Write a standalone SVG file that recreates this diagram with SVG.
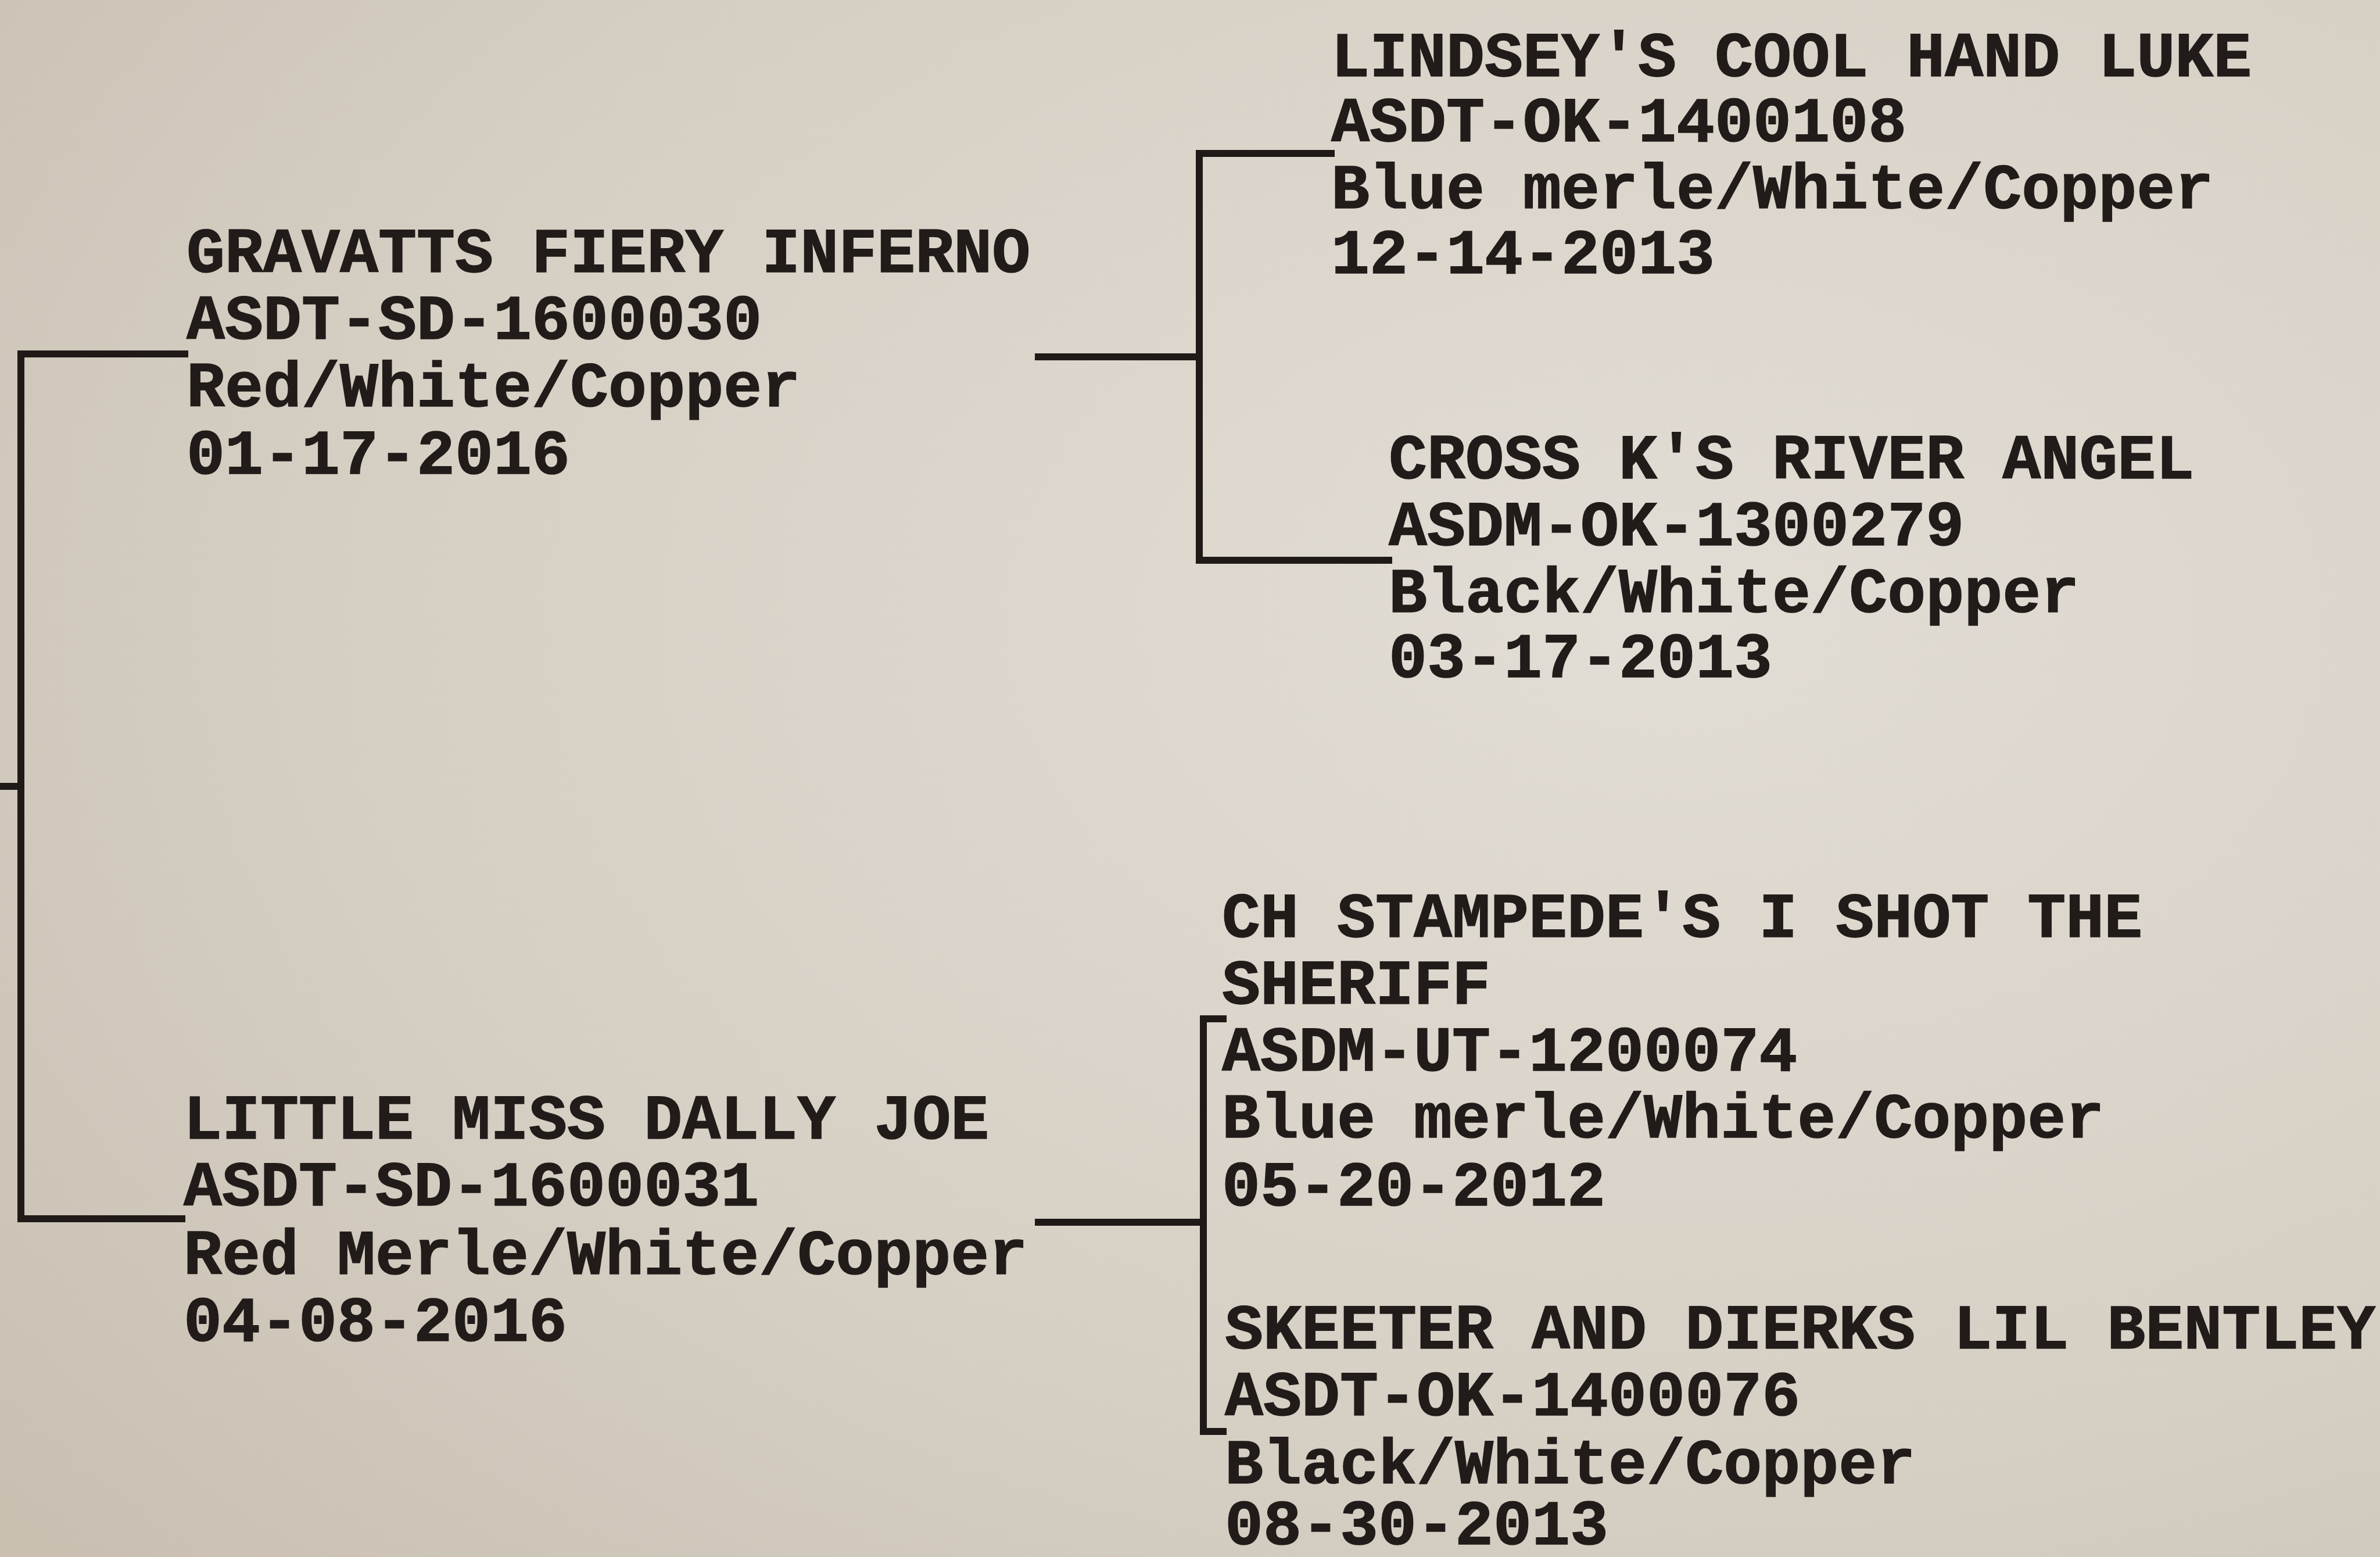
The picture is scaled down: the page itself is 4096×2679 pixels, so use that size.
<svg xmlns="http://www.w3.org/2000/svg" width="4096" height="2679" viewBox="0 0 4096 2679">
<defs>
<style>
.t{font-family:"Liberation Mono","DejaVu Sans Mono",monospace;font-weight:bold;font-size:110px;fill:#211c1a;stroke:#211c1a;stroke-width:1.5}
.c{stroke:#1f1a18;stroke-width:12;fill:none;stroke-linecap:square}
</style>
<radialGradient id="bg" cx="0.7" cy="0.4" r="0.9">
<stop offset="0" stop-color="#e2ddd5"/>
<stop offset="0.6" stop-color="#d6cfc4"/>
<stop offset="1" stop-color="#c9c0b2"/>
</radialGradient>
</defs>
<rect width="4096" height="2679" fill="url(#bg)"/>
<g id="connectors">
<path class="c" d="M0 1353 H36 M318 609 H36 V2097 H313"/>
<path class="c" d="M1787 614 H2064 M2291 264 H2064 V964 H2390"/>
<path class="c" d="M1787 2103 H2071 M2105 1753 H2071 V2463 H2105"/>
</g>
<g id="n-gravatts">
<text class="t" x="321" y="468">GRAVATTS FIERY INFERNO</text>
<text class="t" x="321" y="583">ASDT-SD-1600030</text>
<text class="t" x="321" y="699">Red/White/Copper</text>
<text class="t" x="321" y="815">01-17-2016</text>
</g>
<g id="n-lindsey">
<text class="t" x="2291" y="131">LINDSEY'S COOL HAND LUKE</text>
<text class="t" x="2291" y="243">ASDT-OK-1400108</text>
<text class="t" x="2291" y="358">Blue merle/White/Copper</text>
<text class="t" x="2291" y="470">12-14-2013</text>
</g>
<g id="n-crossk">
<text class="t" x="2390" y="823">CROSS K'S RIVER ANGEL</text>
<text class="t" x="2390" y="938">ASDM-OK-1300279</text>
<text class="t" x="2390" y="1053">Black/White/Copper</text>
<text class="t" x="2390" y="1165">03-17-2013</text>
</g>
<g id="n-littlemiss">
<text class="t" x="316" y="1959">LITTLE MISS DALLY JOE</text>
<text class="t" x="316" y="2074">ASDT-SD-1600031</text>
<text class="t" x="316" y="2192">Red Merle/White/Copper</text>
<text class="t" x="316" y="2307">04-08-2016</text>
</g>
<g id="n-stampede">
<text class="t" x="2103" y="1612">CH STAMPEDE'S I SHOT THE</text>
<text class="t" x="2103" y="1727">SHERIFF</text>
<text class="t" x="2103" y="1842">ASDM-UT-1200074</text>
<text class="t" x="2103" y="1957">Blue merle/White/Copper</text>
<text class="t" x="2103" y="2074">05-20-2012</text>
</g>
<g id="n-skeeter">
<text class="t" x="2108" y="2320">SKEETER AND DIERKS LIL BENTLEY</text>
<text class="t" x="2108" y="2435">ASDT-OK-1400076</text>
<text class="t" x="2108" y="2552">Black/White/Copper</text>
<text class="t" x="2108" y="2657">08-30-2013</text>
</g>
</svg>
